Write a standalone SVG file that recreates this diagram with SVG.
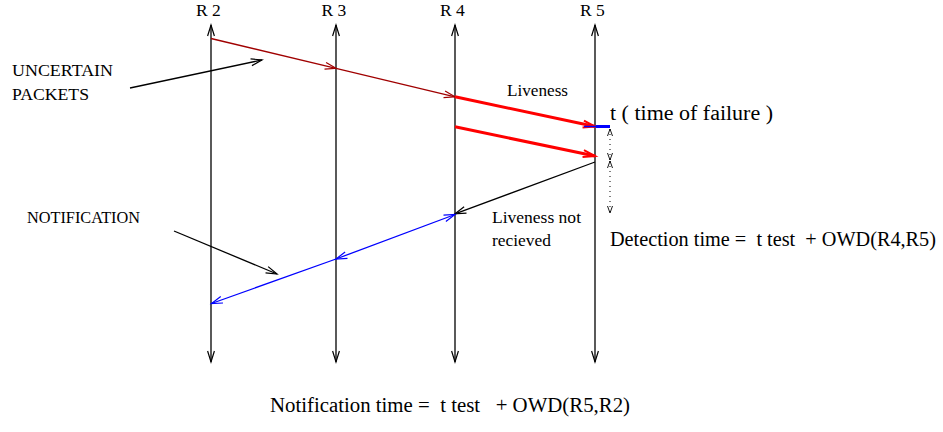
<svg xmlns="http://www.w3.org/2000/svg" width="943" height="432" viewBox="0 0 943 432" font-family="Liberation Serif, Tinos, Times New Roman, serif">
<style>
text{fill:#000}
.lbl{font-size:17.5px}
.big{font-size:20px}
.life{stroke:#000;stroke-width:1.3;fill:none;marker-start:url(#ak);marker-end:url(#ak)}
.thin{fill:none;stroke-width:1.3}
</style>
<defs>
<marker id="ak" markerUnits="userSpaceOnUse" markerWidth="14" markerHeight="10" refX="11" refY="4" orient="auto-start-reverse" overflow="visible"><path d="M0,0.6 L11,4 L0,7.4" fill="none" stroke="#000" stroke-width="1.2"/></marker>
<marker id="adr" markerUnits="userSpaceOnUse" markerWidth="14" markerHeight="10" refX="11" refY="4" orient="auto" overflow="visible"><path d="M0,0.6 L11,4 L0,7.4" fill="none" stroke="#a00000" stroke-width="1.2"/></marker>
<marker id="ar" markerUnits="userSpaceOnUse" markerWidth="16" markerHeight="10" refX="12" refY="4" orient="auto" overflow="visible"><path d="M0,0.5 L12,4 L0,7.5" fill="none" stroke="#ff0000" stroke-width="2"/></marker>
<marker id="ab" markerUnits="userSpaceOnUse" markerWidth="14" markerHeight="10" refX="11" refY="4" orient="auto-start-reverse" overflow="visible"><path d="M0,0.6 L11,4 L0,7.4" fill="none" stroke="#0000ff" stroke-width="1.2"/></marker>
<marker id="ad" markerUnits="userSpaceOnUse" markerWidth="8" markerHeight="10" refX="7" refY="3" orient="auto-start-reverse" overflow="visible"><path d="M0,0.5 L7,3 L0,5.5" fill="none" stroke="#000" stroke-width="0.9"/></marker>
</defs>

<g id="R2"><text class="lbl" x="196" y="16">R 2</text><line class="life" x1="211" y1="25" x2="211" y2="362"/></g>
<g id="R3"><text class="lbl" x="321.5" y="16">R 3</text><line class="life" x1="336" y1="25" x2="336" y2="362"/></g>
<g id="R4"><text class="lbl" x="440" y="16">R 4</text><line class="life" x1="455" y1="25" x2="455" y2="362"/></g>
<g id="R5"><text class="lbl" x="580" y="16">R 5</text><line class="life" x1="595" y1="25" x2="595" y2="362"/></g>

<g id="uncertain"><text class="lbl" x="12" y="76" textLength="101" lengthAdjust="spacingAndGlyphs">UNCERTAIN</text><text class="lbl" x="12" y="100" textLength="77" lengthAdjust="spacingAndGlyphs">PACKETS</text></g>
<g id="notification"><text class="lbl" x="27" y="223" textLength="113" lengthAdjust="spacingAndGlyphs">NOTIFICATION</text></g>
<g id="liveness"><text class="lbl" x="507" y="96" textLength="61" lengthAdjust="spacingAndGlyphs">Liveness</text></g>
<g id="liveness-not"><text class="lbl" x="492" y="223" textLength="89" lengthAdjust="spacingAndGlyphs">Liveness not</text><text class="lbl" x="492" y="246" textLength="59" lengthAdjust="spacingAndGlyphs">recieved</text></g>
<g id="failure"><text class="big" x="610" y="120" font-size="21.5" textLength="163" lengthAdjust="spacingAndGlyphs">t ( time of failure )</text></g>
<g id="detection"><text class="big" x="610" y="246" textLength="326" lengthAdjust="spacingAndGlyphs" xml:space="preserve">Detection time =  t test  + OWD(R4,R5)</text></g>
<g id="notif-time"><text class="big" x="270" y="412" textLength="360" lengthAdjust="spacingAndGlyphs" xml:space="preserve">Notification time =  t test   + OWD(R5,R2)</text></g>

<g id="connectors">
<line class="thin" stroke="#a00000" x1="211" y1="38.5" x2="336" y2="68.3" marker-end="url(#adr)"/>
<line class="thin" stroke="#a00000" x1="336" y1="68.3" x2="455" y2="96.8" marker-end="url(#adr)"/>
<line stroke="#ff0000" stroke-width="3" x1="455" y1="96.8" x2="595" y2="126.5" marker-end="url(#ar)"/>
<line stroke="#ff0000" stroke-width="3" x1="455" y1="126.8" x2="595" y2="156" marker-end="url(#ar)"/>
<line stroke="#0000ff" stroke-width="3" x1="596" y1="126.5" x2="610" y2="126.5"/>
<line stroke="#0000ff" stroke-width="1.5" x1="596" y1="126.5" x2="584" y2="126.5"/>
<line class="thin" stroke="#000" x1="595" y1="162" x2="455" y2="213.8" marker-end="url(#ak)"/>
<line class="thin" stroke="#0000ff" x1="455" y1="214.5" x2="336" y2="259" marker-start="url(#ab)" marker-end="url(#ab)"/>
<line class="thin" stroke="#0000ff" x1="336" y1="259" x2="211.5" y2="303.5" marker-end="url(#ab)"/>
<line class="thin" stroke="#000" x1="130" y1="88" x2="262" y2="60" marker-end="url(#ak)"/>
<line class="thin" stroke="#000" x1="174" y1="231" x2="277" y2="274" marker-end="url(#ak)"/>
<line stroke="#000" stroke-width="1" stroke-dasharray="1,4" x1="610" y1="129" x2="610" y2="160" marker-start="url(#ad)" marker-end="url(#ad)"/>
<line stroke="#000" stroke-width="1" stroke-dasharray="1,4" x1="610" y1="161" x2="610" y2="213" marker-start="url(#ad)" marker-end="url(#ad)"/>
</g>
</svg>
